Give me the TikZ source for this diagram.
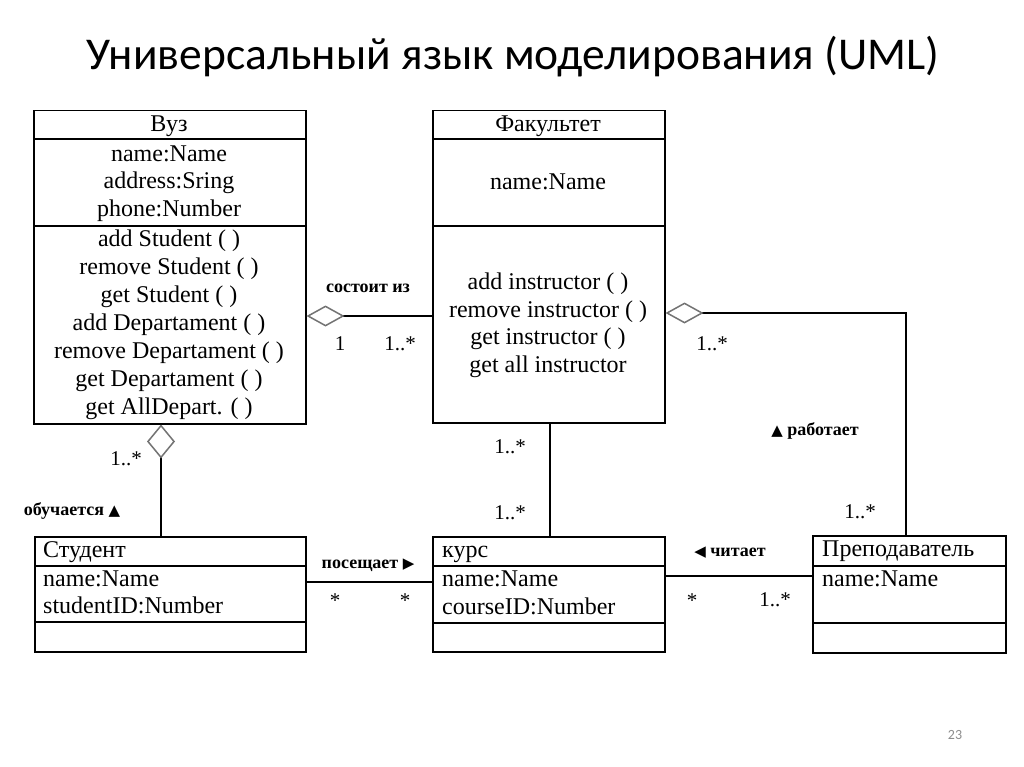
\documentclass[tikz,border=0pt]{standalone}
\usepackage{fontspec}
\setmainfont{Liberation Serif}
\newfontfamily\titlefont{Carlito}
\newfontfamily\symfont{DejaVu Sans}
\newcommand{\tri}[1]{{\symfont\fontsize{15}{17}\selectfont #1}}
\usetikzlibrary{arrows.meta}
\begin{document}
\begin{tikzpicture}[x=1pt,y=-1pt,
  classbox/.style={draw, line width=1.5pt, inner sep=0pt, anchor=north west},
  sep/.style={line width=1.3pt},
  conn/.style={line width=1.5pt},
  agg/.style={{Diamond[open,fill=white,length=38pt,width=21pt,color=black!55,line width=1.5pt]}-},
  aggv/.style={{Diamond[open,fill=white,length=34pt,width=28pt,color=black!55,line width=1.5pt]}-},
  ctxt/.style={font=\fontsize{24}{28}\selectfont, inner sep=0pt, anchor=mid, yshift=-4pt},
  ltxt/.style={font=\fontsize{24}{28}\selectfont, inner sep=0pt, anchor=mid west, yshift=-4pt},
  mult/.style={font=\fontsize{21}{24}\selectfont, inner sep=0pt, anchor=mid, yshift=-3pt},
  small/.style={font=\fontsize{18}{20}\selectfont\bfseries, inner sep=0pt, anchor=mid, yshift=-3pt}
]
\useasboundingbox (0,0) rectangle (1024,767);
\fill[white] (0,0) rectangle (1024,767);

% title
\node[inner sep=0pt] (title) at (513,57) {\resizebox{853pt}{!}{\titlefont\fontsize{46}{50}\selectfont Универсальный язык моделирования (UML)}};
\node[inner sep=0pt, text=black!45, font=\titlefont\fontsize{14}{16}\selectfont] (pg) at (955,735) {23};

% Вуз
\node[classbox, minimum width=272pt, minimum height=313pt] (vuz) at (33,110) {};
\draw[sep] (33,139) -- (305,139);
\draw[sep] (33,226) -- (305,226);
\node[ctxt] (vuzh) at (169,125) {Вуз};
\node[ctxt] (vuza1) at (169,155) {name:Name};
\node[ctxt] (vuza2) at (169,182) {address:Sring};
\node[ctxt] (vuza3) at (169,210) {phone:Number};
\node[ctxt] (vuzm1) at (169,240) {add Student ( )};
\node[ctxt] (vuzm2) at (169,268) {remove Student ( )};
\node[ctxt] (vuzm3) at (169,296) {get Student ( )};
\node[ctxt] (vuzm4) at (169,324) {add Departament ( )};
\node[ctxt] (vuzm5) at (169,352) {remove Departament ( )};
\node[ctxt] (vuzm6) at (169,380) {get Departament ( )};
\node[ctxt] (vuzm7) at (169,408) {get AllDepart. ( )};

% Факультет
\node[classbox, minimum width=232pt, minimum height=312pt] (fak) at (432,110) {};
\draw[sep] (432,139) -- (664,139);
\draw[sep] (432,226) -- (664,226);
\node[ctxt] (fakh) at (548,125) {Факультет};
\node[ctxt] (faka1) at (548,183) {name:Name};
\node[ctxt] (fakm1) at (548,283) {add instructor ( )};
\node[ctxt] (fakm2) at (548,311) {remove instructor ( )};
\node[ctxt] (fakm3) at (548,338) {get instructor ( )};
\node[ctxt] (fakm4) at (548,366) {get all instructor};

% Студент
\node[classbox, minimum width=271pt, minimum height=115pt] (stud) at (34,536) {};
\draw[sep] (34,566) -- (305,566);
\draw[sep] (34,622) -- (305,622);
\node[ltxt] (studh) at (43,551) {Студент};
\node[ltxt] (studa1) at (43,580) {name:Name};
\node[ltxt] (studa2) at (43,607) {studentID:Number};

% курс
\node[classbox, minimum width=232pt, minimum height=115pt] (kurs) at (432,536) {};
\draw[sep] (432,566) -- (664,566);
\draw[sep] (432,623) -- (664,623);
\node[ltxt] (kursh) at (442,551) {курс};
\node[ltxt] (kursa1) at (442,580) {name:Name};
\node[ltxt] (kursa2) at (442,608) {courseID:Number};

% Преподаватель
\node[classbox, minimum width=193pt, minimum height=117pt] (prep) at (812,535) {};
\draw[sep] (812,566) -- (1005,566);
\draw[sep] (812,623) -- (1005,623);
\node[ltxt] (preph) at (822,550) {Преподаватель};
\node[ltxt] (prepa1) at (822,580) {name:Name};

% connectors
\draw[conn, agg] (vuz.east |- 0,316) -- (fak.west |- 0,316);
\draw[conn, agg] (fak.east |- 0,313) -| (906,0 |- prep.north);
\draw[conn, aggv] (vuz.south -| 161,0) -- (stud.north -| 161,0);
\draw[conn] (fak.south -| 550,0) -- (kurs.north -| 550,0);
\draw[conn] (stud.east |- 0,582) -- (kurs.west |- 0,582);
\draw[conn] (kurs.east |- 0,576) -- (prep.west |- 0,576);

% labels
\node[small] (l1) at (368,287) {состоит из};
\node[mult] (m1) at (340,345) {1};
\node[mult] (m2) at (400,345) {1..*};
\node[mult] (m3) at (712,345) {1..*};
\node[small] (l2) at (815,430) {\tri{▲} работает};
\node[mult] (m4) at (860,513) {1..*};
\node[mult] (m5) at (510,448) {1..*};
\node[mult] (m6) at (510,514) {1..*};
\node[mult] (m7) at (126,460) {1..*};
\node[small] (l3) at (72,510) {обучается \tri{▲}};
\node[small] (l4) at (368,563) {посещает \tri{▶}};
\node[mult] (m8) at (335,602) {*};
\node[mult] (m9) at (405,602) {*};
\node[small] (l5) at (730,551) {\tri{◀} читает};
\node[mult] (m10) at (692,602) {*};
\node[mult] (m11) at (775,601) {1..*};
\end{tikzpicture}
\end{document}
